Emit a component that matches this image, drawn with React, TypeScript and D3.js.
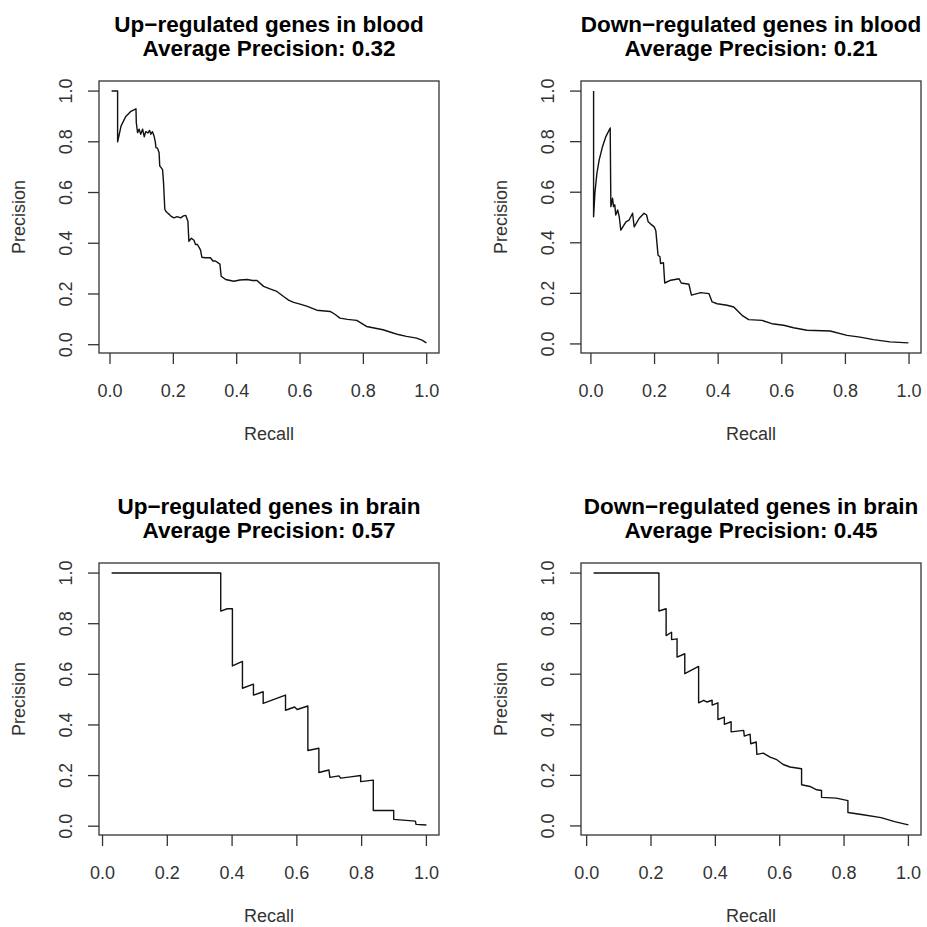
import React from "react";
import * as d3 from "d3";

// ---- data ----
const upBloodRecall = [0.005,0.024,0.024,0.035,0.050,0.066,0.082,0.083,0.087,0.092,0.097,0.103,0.108,0.113,0.120,0.125,0.129,0.134,0.139,0.143,0.145,0.150,0.155,0.157,0.160,0.166,0.169,0.173,0.177,0.181,0.186,0.192,0.202,0.212,0.223,0.232,0.239,0.246,0.249,0.257,0.265,0.270,0.276,0.283,0.286,0.290,0.300,0.317,0.325,0.333,0.347,0.351,0.365,0.391,0.410,0.433,0.450,0.464,0.485,0.505,0.527,0.548,0.565,0.580,0.600,0.621,0.653,0.695,0.710,0.726,0.750,0.779,0.810,0.830,0.862,0.894,0.910,0.936,0.968,0.985,0.999];
const upBloodPrecision = [1.0,1.0,0.80,0.863,0.90,0.92,0.93,0.876,0.836,0.85,0.83,0.85,0.82,0.84,0.835,0.845,0.83,0.84,0.823,0.80,0.777,0.775,0.757,0.705,0.70,0.69,0.639,0.534,0.525,0.52,0.515,0.507,0.50,0.505,0.50,0.508,0.51,0.487,0.408,0.42,0.412,0.395,0.395,0.38,0.372,0.345,0.343,0.343,0.33,0.33,0.318,0.27,0.257,0.25,0.255,0.257,0.253,0.253,0.23,0.22,0.21,0.19,0.175,0.167,0.16,0.152,0.136,0.131,0.12,0.105,0.10,0.096,0.072,0.067,0.059,0.046,0.04,0.033,0.026,0.018,0.007];

const downBloodRecall = [0.0084,0.0084,0.0125,0.0188,0.026,0.0366,0.047,0.0606,0.0627,0.068,0.071,0.075,0.078,0.084,0.089,0.094,0.110,0.120,0.131,0.136,0.152,0.167,0.175,0.180,0.188,0.199,0.204,0.211,0.217,0.219,0.228,0.232,0.251,0.277,0.284,0.308,0.316,0.345,0.371,0.381,0.397,0.428,0.449,0.475,0.496,0.538,0.569,0.606,0.637,0.679,0.752,0.805,0.846,0.888,0.940,0.998];
const downBloodPrecision = [1.0,0.503,0.596,0.675,0.728,0.781,0.82,0.854,0.543,0.576,0.543,0.55,0.51,0.53,0.503,0.45,0.483,0.49,0.517,0.463,0.497,0.517,0.51,0.483,0.474,0.463,0.448,0.351,0.345,0.318,0.321,0.241,0.252,0.258,0.241,0.236,0.193,0.203,0.199,0.166,0.159,0.153,0.146,0.113,0.096,0.093,0.08,0.074,0.064,0.054,0.051,0.034,0.027,0.017,0.008,0.004];

const upBrainRecall = [0.028,0.365,0.365,0.385,0.401,0.401,0.432,0.432,0.466,0.466,0.496,0.496,0.565,0.565,0.593,0.601,0.634,0.634,0.668,0.668,0.699,0.702,0.730,0.735,0.766,0.797,0.797,0.836,0.836,0.899,0.899,0.966,0.968,1.0];
const upBrainPrecision = [1.0,1.0,0.85,0.859,0.859,0.633,0.651,0.545,0.561,0.518,0.531,0.485,0.518,0.458,0.471,0.461,0.475,0.299,0.308,0.212,0.222,0.193,0.199,0.19,0.195,0.20,0.176,0.182,0.062,0.062,0.027,0.02,0.007,0.005];

const downBrainRecall = [0.0216,0.2246,0.2246,0.247,0.247,0.264,0.264,0.281,0.281,0.305,0.305,0.348,0.348,0.364,0.374,0.390,0.390,0.408,0.408,0.428,0.428,0.449,0.449,0.488,0.490,0.508,0.510,0.527,0.529,0.549,0.570,0.591,0.611,0.632,0.668,0.668,0.694,0.715,0.730,0.730,0.776,0.812,0.812,0.859,0.915,0.957,1.0];
const downBrainPrecision = [1.0,1.0,0.85,0.859,0.753,0.766,0.737,0.74,0.668,0.681,0.602,0.631,0.487,0.497,0.49,0.497,0.478,0.487,0.421,0.43,0.402,0.412,0.372,0.378,0.355,0.363,0.325,0.332,0.283,0.288,0.272,0.262,0.243,0.233,0.226,0.163,0.156,0.143,0.14,0.113,0.11,0.10,0.053,0.044,0.033,0.017,0.004];

const panelTitles = [
  "Up\u2212regulated genes in blood",
  "Down\u2212regulated genes in blood",
  "Up\u2212regulated genes in brain",
  "Down\u2212regulated genes in brain",
];
const averagePrecision = ["0.32", "0.21", "0.57", "0.45"];
const tickValues = [0, 0.2, 0.4, 0.6, 0.8, 1.0];
const xLabel = "Recall";
const yLabel = "Precision";

const panelData = [
  [upBloodRecall, upBloodPrecision],
  [downBloodRecall, downBloodPrecision],
  [upBrainRecall, upBrainPrecision],
  [downBrainRecall, downBrainPrecision],
];

// ---- layout ----
const W = 927;
const H = 927;
const BOX_LEFT = 99;
const BOX_TOP = 81;
const STEP = 482;
const BOX_W = 340;
const BOX_H = 272;
const FONT = "'Liberation Sans', Arial, Helvetica, sans-serif";

function rPad(ext: [number, number]): [number, number] {
  const r = ext[1] - ext[0];
  return [ext[0] - 0.04 * r, ext[1] + 0.04 * r];
}

function Panel({ idx }: { idx: number }) {
  const col = idx % 2;
  const row = Math.floor(idx / 2);
  const left = BOX_LEFT + STEP * col;
  const top = BOX_TOP + STEP * row;
  const right = left + BOX_W;
  const bottom = top + BOX_H;
  const [rec, prec] = panelData[idx];
  const x = d3.scaleLinear().domain(rPad(d3.extent(rec) as [number, number])).range([left, right]);
  const y = d3.scaleLinear().domain(rPad(d3.extent(prec) as [number, number])).range([bottom, top]);
  const pts = rec.map((r, i) => [r, prec[i]] as [number, number]);
  const line = d3.line<[number, number]>().x((d) => x(d[0])).y((d) => y(d[1]));
  const cx = (left + right) / 2;
  const cy = (top + bottom) / 2;
  const fmt = d3.format(".1f");
  const tickLen = 11;
  return (
    <g>
      <text x={cx} y={top - 49} textAnchor="middle" fontFamily={FONT} fontWeight="bold" fontSize={22.5} fill="#000">
        {panelTitles[idx]}
      </text>
      <text x={cx} y={top - 25} textAnchor="middle" fontFamily={FONT} fontWeight="bold" fontSize={22.5} fill="#000">
        {"Average Precision: " + averagePrecision[idx]}
      </text>
      <rect x={left} y={top} width={BOX_W} height={BOX_H} fill="none" stroke="#333" strokeWidth={1.3} />
      {tickValues.map((t) => (
        <g key={"x" + t}>
          <line x1={x(t)} x2={x(t)} y1={bottom} y2={bottom + tickLen} stroke="#333" strokeWidth={1.3} />
          <text x={x(t)} y={bottom + 43.5} textAnchor="middle" fontFamily={FONT} fontSize={18} fill="#333">
            {fmt(t)}
          </text>
        </g>
      ))}
      {tickValues.map((t) => (
        <g key={"y" + t}>
          <line x1={left - tickLen} x2={left} y1={y(t)} y2={y(t)} stroke="#333" strokeWidth={1.3} />
          <text
            transform={`translate(${left - 27.5},${y(t)}) rotate(-90)`}
            textAnchor="middle"
            fontFamily={FONT}
            fontSize={18}
            fill="#333"
          >
            {fmt(t)}
          </text>
        </g>
      ))}
      <text x={cx} y={bottom + 87} textAnchor="middle" fontFamily={FONT} fontSize={18} fill="#333">
        {xLabel}
      </text>
      <text
        transform={`translate(${left - 74.5},${cy}) rotate(-90)`}
        textAnchor="middle"
        fontFamily={FONT}
        fontSize={18}
        fill="#333"
      >
        {yLabel}
      </text>
      <path d={line(pts) || ""} fill="none" stroke="#111" strokeWidth={1.4} strokeLinejoin="round" />
    </g>
  );
}

export default function App() {
  return (
    <svg
      width={W}
      height={H}
      viewBox={`0 0 ${W} ${H}`}
      style={{ position: "absolute", left: 0, top: 0, background: "#fff" }}
    >
      <rect x={0} y={0} width={W} height={H} fill="#fff" />
      {[0, 1, 2, 3].map((i) => (
        <Panel key={i} idx={i} />
      ))}
    </svg>
  );
}
